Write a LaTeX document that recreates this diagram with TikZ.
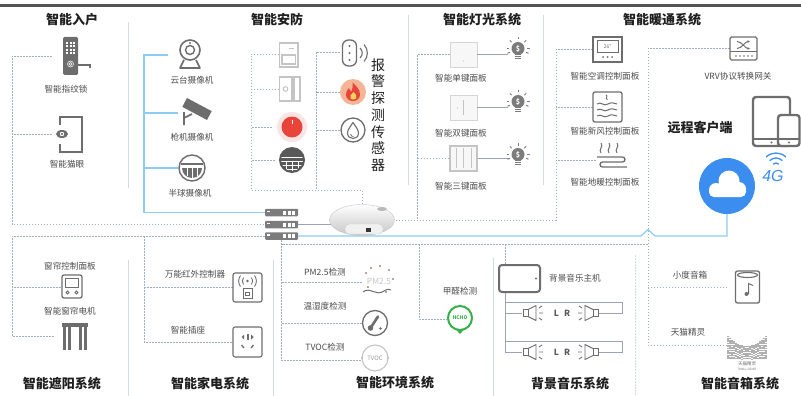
\documentclass[tikz,border=0pt]{standalone}
\usepackage{fontspec}
\setmainfont{Noto Sans CJK SC}
\newfontfamily\hmlatin{Liberation Sans}
\usepackage{tikz}
\usetikzlibrary{arrows.meta,shapes.geometric}
\definecolor{hmink}   {HTML}{1F1F1F}
\definecolor{hmtext}  {HTML}{4A4A4A}
\definecolor{hmdash}  {HTML}{9CAEC6}
\definecolor{hmsky}   {HTML}{8CCBF2}
\definecolor{hmwire}  {HTML}{98A4B5}
\definecolor{hmrule}  {HTML}{D2DAE4}
\definecolor{hmicon}  {HTML}{6D6D6D}
\definecolor{hmdark}  {HTML}{595959}
\definecolor{hmpale}  {HTML}{C4C4C4}
\definecolor{hmcloud} {HTML}{3B8EF0}
\definecolor{hmgreen} {HTML}{35B04A}
\definecolor{hmred}   {HTML}{E8443A}
\definecolor{hmpink}  {HTML}{FBE4E4}
\definecolor{hmfire}  {HTML}{F4B596}
\definecolor{hmbar}   {HTML}{545454}
\tikzset{
  hmtitle/.style={font=\fontsize{13}{15}\selectfont\bfseries, text=hmink, inner sep=0pt},
  hmlabel/.style={font=\fontsize{8.6}{10}\selectfont, text=hmtext, inner sep=0pt},
  hmspot/.style={inner sep=0pt, minimum size=2pt},
  hmdots/.style={draw=hmdash, line width=0.7pt, dash pattern=on 1.6pt off 1.4pt},
  hmbus/.style={draw=hmsky, line width=1.2pt},
  hmcable/.style={draw=hmwire, line width=0.9pt},
  hmdivider/.style={draw=hmrule, line width=0.9pt},
  hmline/.style={draw=hmicon, line width=1.2pt},
  hmpanel/.style={draw=hmpale!70, fill=black!3, line width=0.9pt, minimum width=27pt,
                  minimum height=25pt, inner sep=0pt},
  hmrack/.style={fill=hmicon!90, rounded corners=1pt, minimum width=33pt,
                 minimum height=7.5pt, inner sep=0pt},
  hmhub/.style={ellipse, draw=gray!45, top color=white, bottom color=gray!45,
                minimum width=65pt, minimum height=31pt, inner sep=0pt},
  hmspeaker/.pic={
    \draw[hmicon, line width=0.9pt, fill=white] (-8,-3.5) rectangle (-3,3.5);
    \draw[hmicon, line width=0.9pt, line join=round] (-3,-3.5) -- (5,-7.5) -- (5,7.5) -- (-3,3.5);
    \draw[hmicon, line width=0.9pt] (8,-5) -- (11,-7) (8,0) -- (12,0) (8,5) -- (11,7);
  },
}

\begin{document}
\begin{tikzpicture}[x=1pt,y=-1pt]
  \useasboundingbox (0,0) rectangle (801,396);
  \fill[hmbar] (0,4) rectangle (801,7);

  % section titles
  \node[hmtitle] (tEntry)   at (72,20)   {智能入户};
  \node[hmtitle] (tGuard)   at (277,20)  {智能安防};
  \node[hmtitle] (tLight)   at (482,20)  {智能灯光系统};
  \node[hmtitle] (tHvac)    at (662,20)  {智能暖通系统};
  \node[hmtitle] (tRemote)  at (700,128) {远程客户端};
  \node[hmtitle] (tShade)   at (62,384)  {智能遮阳系统};
  \node[hmtitle] (tAppl)    at (210,384) {智能家电系统};
  \node[hmtitle] (tEnv)     at (395,383) {智能环境系统};
  \node[hmtitle] (tMusic)   at (570,384) {背景音乐系统};
  \node[hmtitle] (tSpeaker) at (740,384) {智能音箱系统};
  \node[hmtitle, align=center, font=\fontsize{14}{16.7}\selectfont] (tAlarm) at (378,115)
    {报\\警\\探\\测\\传\\感\\器};

  % rules between the groups
  \draw[hmdivider] (128,22) -- (128,188);
  \draw[hmdivider] (408,15) -- (408,185);
  \draw[hmdivider] (543,15) -- (543,185);
  \draw[hmdivider] (128,260) -- (128,396);
  \draw[hmdivider] (273,260) -- (273,396);
  \draw[hmdivider] (493,258) -- (493,396);
  \draw[hmdivider, dash pattern=on 1.6pt off 1.4pt] (635,255) -- (635,396);

  % labels
  \node[hmlabel] (lLock)   at (66,89)   {智能指纹锁};
  \node[hmlabel] (lEye)    at (67,164)  {智能猫眼};
  \node[hmlabel] (lCam)    at (192,80)  {云台摄像机};
  \node[hmlabel] (lGun)    at (192,137) {枪机摄像机};
  \node[hmlabel] (lDome)   at (190,193) {半球摄像机};
  \node[hmlabel] (lKey1)   at (461,78)  {智能单键面板};
  \node[hmlabel] (lKey2)   at (461,133) {智能双键面板};
  \node[hmlabel] (lKey3)   at (461,186) {智能三键面板};
  \node[hmlabel] (lAc)     at (605,76)  {智能空调控制面板};
  \node[hmlabel] (lFresh)  at (605,131) {智能新风控制面板};
  \node[hmlabel] (lFloor)  at (605,182) {智能地暖控制面板};
  \node[hmlabel] (lVrv)    at (738,76)  {VRV协议转换网关};
  \node[hmlabel] (lShade)  at (70,266)  {窗帘控制面板};
  \node[hmlabel] (lMotor)  at (70,311)  {智能窗帘电机};
  \node[hmlabel] (lIrc)    at (195,274) {万能红外控制器};
  \node[hmlabel] (lPlug)   at (188,330) {智能插座};
  \node[hmlabel] (lPm)     at (325,272) {PM2.5检测};
  \node[hmlabel] (lThermo) at (325,306) {温湿度检测};
  \node[hmlabel] (lTvoc)   at (325,347) {TVOC检测};
  \node[hmlabel] (lHcho)   at (460,291) {甲醛检测};
  \node[hmlabel] (lHost)   at (575,278) {背景音乐主机};
  \node[hmlabel] (lXiaodu) at (690,275) {小度音箱};
  \node[hmlabel] (lTmall)  at (688,332) {天猫精灵};

  % anchor boxes of the devices
  \node[hmspot, minimum width=36pt, minimum height=40pt] (lock)    at (70,56)    {};
  \node[hmspot, minimum width=38pt, minimum height=36pt] (eye)     at (71,134)   {};
  \node[hmspot, minimum width=44pt, minimum height=32pt] (cam)     at (190,55)   {};
  \node[hmspot, minimum width=36pt, minimum height=28pt] (gun)     at (196,113)  {};
  \node[hmspot, minimum width=28pt, minimum height=28pt] (dome)    at (192,168)  {};
  \node[hmspot, minimum width=20pt, minimum height=25pt] (win)     at (289.5,54) {};
  \node[hmspot, minimum width=20pt, minimum height=25pt] (door)    at (289.5,89) {};
  \node[hmspot, minimum width=40pt, minimum height=30pt] (sos)     at (292,127)  {};
  \node[hmspot, minimum width=34pt, minimum height=26pt] (smoke)   at (292,160)  {};
  \node[hmspot, minimum width=19pt, minimum height=26pt] (curtain) at (349.5,52) {};
  \node[hmspot, minimum width=26pt, minimum height=26pt] (fire)    at (353,92)   {};
  \node[hmspot, minimum width=26pt, minimum height=26pt] (leak)    at (353,130)  {};
  \node[hmpanel] (key1) at (463.5,54.5) {};
  \node[hmpanel] (key2) at (463.5,107.5) {};
  \node[hmpanel, draw=hmpale, line width=1.4pt] (key3) at (463.5,158.5) {};
  \node[hmspot, minimum width=29pt, minimum height=25pt] (ac)      at (607.5,49.5) {};
  \node[hmspot, minimum width=29pt, minimum height=30pt] (fresh)   at (607.5,107)  {};
  \node[hmspot, minimum width=30pt, minimum height=25pt] (floor)   at (611,160)    {};
  \node[hmspot, minimum width=27pt, minimum height=23pt] (vrv)     at (743.5,48.5) {};
  \node[circle, fill=hmcloud, minimum size=56pt, inner sep=0pt] (cloud) at (727,186) {};
  \node[hmspot, minimum width=22pt, minimum height=24pt] (shade)   at (72,287)   {};
  \node[hmspot, minimum width=40pt, minimum height=28pt] (motor)   at (75,336)   {};
  \node[hmspot, minimum width=29pt, minimum height=29pt] (irc)     at (247.5,287.5) {};
  \node[hmspot, minimum width=29pt, minimum height=30pt] (plug)    at (247.5,342)   {};
  \node[hmspot, minimum width=32pt, minimum height=30pt] (pm)      at (378,282)  {};
  \node[hmspot, minimum width=26pt, minimum height=26pt] (thermo)  at (375,323)  {};
  \node[hmspot, minimum width=26pt, minimum height=26pt] (tvoc)    at (375,360)  {};
  \node[hmspot, minimum width=26pt, minimum height=26pt] (hcho)    at (460,319)  {};
  \node[draw=hmicon, line width=2pt, rounded corners=3pt, minimum width=41pt,
        minimum height=27pt, inner sep=0pt] (host) at (519.5,278.5) {};
  \node[hmspot, minimum width=40pt, minimum height=34pt] (xiaodu)  at (747.5,287) {};
  \node[hmspot, minimum width=40pt, minimum height=30pt] (tmall)   at (747,345)  {};

  % bus coordinates
  \coordinate (entryBus) at (12,0);
  \coordinate (camBus)   at (144,0);
  \coordinate (senBus)   at (251,0);
  \coordinate (senBusB)  at (316,0);
  \coordinate (lightBus) at (417,0);
  \coordinate (hvacBus)  at (556,0);
  \coordinate (spkBus)   at (648,0);
  \coordinate (musicBus) at (505,244);
  \coordinate (hchoBus)  at (419,244);
  \coordinate (applBus)  at (144,236);

  % switch and gateway
  \foreach \n/\y in {1/212.5,2/224.5,3/236} {
    \node[hmrack] (sw\n) at (281.5,\y) {};
    \fill[white] (267,\y-2) rectangle (269.5,\y-0.5);
    \foreach \x in {283,287.5,292} \fill[white] (\x,\y-2) rectangle (\x+3,\y+2);
  }

  % connectors, upper half
  \draw[hmdots] (lock.west) -| (sw2.west -| entryBus) -- (sw2.west);
  \draw[hmdots] (eye.west) -- (eye.west -| entryBus);
  \draw[hmbus] (cam.west) -| (sw1.west -| camBus) -- (sw1.west);
  \draw[hmbus] (gun.west) -- (gun.west -| camBus);
  \draw[hmbus] (dome.west) -- (dome.west -| camBus);
  \draw[hmdots] (win.west) -| (251,190) -| (362,205);
  \draw[hmdots] (door.west) -- (door.west -| senBus);
  \draw[hmdots] (sos.west) -- (sos.west -| senBus);
  \draw[hmdots] (smoke.west) -- (smoke.west -| senBus);
  \draw[hmdots] (curtain.west) -| (316,190);
  \draw[hmdots] (fire.west) -- (fire.west -| senBusB);
  \draw[hmdots] (leak.west) -- (leak.west -| senBusB);
  \draw[hmdots] (key1.west) -| (417,220);
  \draw[hmdots] (key3.west) -- (key3.west -| lightBus);
  \draw[hmdots] (ac.west) -| (556,220) -- (395,220);
  \draw[hmdots] (fresh.west) -- (fresh.west -| hvacBus);
  \draw[hmdots] (floor.west) -- (floor.west -| hvacBus);
  \draw[hmcable] (sw2.east) -- ++(34,0);
  \foreach \n in {1,2,3} \draw[hmcable] (key\n.east) -- ++(31,0);

  % connectors, lower half
  \draw[hmdots] (vrv.west) -| (tmall.west -| spkBus) -- (tmall.west);
  \draw[hmdots] (xiaodu.west) -- (xiaodu.west -| spkBus);
  \draw[hmdots] (sw3.south) |- (spkBus |- musicBus);
  \draw[hmdots] (sw3.south) |- (tvoc.west);
  \draw[hmdots] (pm.west) -- (pm.west -| sw3.south);
  \draw[hmdots] (thermo.west) -- (thermo.west -| sw3.south);
  \draw[hmdots] (hchoBus) |- (hcho.west);
  \draw[hmdots] (musicBus) -- (musicBus |- host.north);
  \draw[hmdots] (sw3.west) -| (motor.west -| entryBus) -- (motor.west);
  \draw[hmdots] (shade.west) -- (shade.west -| entryBus);
  \draw[hmdots] (applBus) |- (plug.west);
  \draw[hmdots] (irc.west) -- (irc.west -| applBus);
  \draw[hmbus] (sw3.east) -- (641,236) -- (648,229.5) -- (655,236) -| (cloud.south);

  % hub
  \node[hmhub] (hub) at (362,220) {};
  \filldraw[fill=gray!12, draw=gray!40, rounded corners=4pt] (345,224) rectangle (383,234);
  \fill[black!80] (366,227.5) rectangle (371,232);
  \fill[gray!55] (382,209) ellipse (5 and 2);

  % entry devices
  \fill[hmicon, rounded corners=1.5pt] (63,37) rectangle (78,75);
  \foreach \i in {66,69.5,73} \foreach \j in {42,45.5,49,52.5} \fill[white] (\i,\j) rectangle ++(2,1.8);
  \draw[white, line width=0.5pt] (70.5,64) circle (3) (70.5,64) circle (1.4);
  \draw[hmicon, line width=2.2pt] (78,65) -- (90,65) -- (90,68);
  \draw[hmicon, line width=1.6pt] (60,125) |- (82,117) |- (60,152) -- (60,144);
  \fill[hmicon] (62,134) ellipse (6 and 4);
  \fill[white] (62,134) circle (2.2);
  \fill[hmdark] (62,134) circle (1.1);

  % cameras
  \draw[hmicon, line width=1.6pt] (190,50) circle (10);
  \draw[hmicon, line width=1.4pt] (190,50) circle (4.5);
  \fill[hmicon] (190,43) circle (1.1);
  \draw[hmicon, line width=1.6pt, line join=round] (184,60) -- (180,68) -- (200,68) -- (196,60);
  \fill[hmicon, rotate around={-28:(197,109)}] (183,104) rectangle (211,114);
  \draw[hmicon, line width=1.6pt] (184,112) -- (184,125) (184,118) -- (192,114);
  \draw[hmicon, line width=1.4pt] (192,168) circle (13);
  \fill[hmicon] (181,162.5) rectangle (203,165);
  \fill[hmicon] (182,168) -- (202,168) arc[start angle=0, end angle=180, radius=10];
  \draw[white, line width=0.6pt] (187,168) -- (187,176) (192,168) -- (192,178) (197,168) -- (197,176);

  % alarm sensors
  \draw[hmpale, line width=1.2pt] (279.5,43) rectangle (298,67);
  \draw[hmpale, line width=1.1pt] (282,55) rectangle (295.5,64);
  \draw[hmpale, line width=1pt] (289,49) -- (294,49);
  \draw[hmpale, line width=1.2pt] (279.5,77) rectangle (292,101) (294,77) rectangle (300,101);
  \draw[hmpale, line width=1pt] (285.5,89) circle (2.3);
  \fill[hmpink] (292,127) circle (15);
  \fill[hmred] (292,127) circle (10.5);
  \draw[white, line width=1pt] (292,119.5) -- (292,123.5);
  \fill[hmdark] (292,160) circle (13);
  \begin{scope}
    \clip (292,160) circle (11);
    \draw[white, line width=0.8pt] (279,157) -- (305,157) (279,161) -- (305,161) (279,165) -- (305,165)
      (279,169) -- (305,169) (286,161) -- (286,175) (292,161) -- (292,175) (298,161) -- (298,175);
  \end{scope}
  \draw[hmicon, line width=1.3pt, rounded corners=6pt] (342.5,40) rectangle (356.5,66);
  \foreach \y in {46,53,60} \fill[hmicon] (349.5,\y) circle (1.2);
  \draw[hmicon, line width=1.1pt] (360,48) .. controls (363,51) and (363,55) .. (360,58);
  \draw[hmicon, line width=1.1pt] (364,44.5) .. controls (368.5,49.5) and (368.5,56.5) .. (364,61.5);
  \fill[hmfire] (353,92) circle (13);
  \fill[hmred] (352.5,82.5) .. controls (356,86) and (360,89) .. (360,94.5)
    .. controls (360,98.5) and (357,101) .. (353,101) .. controls (349,101) and (346,98.5) .. (346,94.5)
    .. controls (346,91.5) and (347.5,89.5) .. (349,88) .. controls (349.5,90) and (350.5,91) .. (351.5,91.5)
    .. controls (352.5,89) and (353,86) .. (352.5,82.5) -- cycle;
  \fill[hmfire!60!yellow] (353.5,92) .. controls (356,94.5) and (357,96.5) .. (356,98.5)
    .. controls (355,100) and (351.5,100) .. (350.5,98.5) .. controls (349.5,96.5) and (351,94) .. (353.5,92) -- cycle;
  \draw[hmicon, line width=1.3pt] (353,130) circle (12);
  \draw[hmicon, line width=1.1pt] (353,122.5) .. controls (350,127) and (347.5,130) .. (347.5,133)
    .. controls (347.5,136.5) and (350,138.5) .. (353,138.5) .. controls (356,138.5) and (358.5,136.5) .. (358.5,133)
    .. controls (358.5,130) and (356,127) .. (353,122.5) -- cycle;
  \draw[hmicon, line width=0.8pt] (350.5,134) .. controls (351,136) and (352,136.5) .. (353.5,136.5);

  % light panels and lamps
  \fill[hmpale] (463.5,61) circle (0.7);
  \draw[hmpale, line width=0.8pt] (463.5,100) -- (463.5,115);
  \fill[hmpale] (457.5,108) circle (0.7);
  \draw[hmpale, line width=0.9pt] (456,148) -- (456,168) (463.5,148) -- (463.5,168) (471,148) -- (471,168);
  \foreach \n/\y in {1/50,2/103,3/156} {
    \fill[hmicon!90] (518,\y-1.5) circle (6.5);
    \fill[hmicon!90] (515,\y+3) rectangle (521,\y+9);
    \draw[white, line width=0.5pt] (515,\y+5.5) -- (521,\y+5.5) (515,\y+7.5) -- (521,\y+7.5);
    \node[font=\fontsize{7}{7}\selectfont\bfseries, text=white, inner sep=0pt] (bulbmark\n) at (518,\y-1.5) {\$};
    \foreach \a in {-180,-135,-90,-45,0,25,155}
      \draw[hmicon!90, line width=1pt] (518,\y-1.5) ++(\a:9) -- ++(\a:2.5);
  }

  % hvac devices
  \draw[hmicon, line width=1.1pt] (593,37) rectangle (622,62);
  \draw[hmicon, line width=0.8pt] (597,40.5) rectangle (618,52);
  \node[font=\fontsize{5}{5}\selectfont, text=hmicon, inner sep=0pt] (acTemp) at (607.5,46.3) {26°};
  \foreach \x in {603,607.5,612} \fill[hmicon] (\x,57) circle (1);
  \draw[hmicon, line width=1.3pt, rounded corners=2pt] (593,92) rectangle (622,122);
  \draw[hmicon, line width=0.9pt] (606,95) .. controls (609,96) and (604,98.5) .. (607.5,99.5);
  \foreach \y in {104,110,116}
    \draw[hmicon, line width=1pt] (597,\y) .. controls (601,\y-3) and (604,\y+3) .. (608,\y)
      .. controls (611,\y-2) and (614,\y-1) .. (617,\y);
  \foreach \x in {601,609,617}
    \draw[hmicon, line width=1pt] (\x,143) .. controls (\x+3,146) and (\x-3,150) .. (\x,153);
  \draw[hmicon, line width=1.3pt, rounded corners=2.5pt] (597,157) -- (625,157) -- (625,162) -- (600,162)
    -- (600,167) -- (627,167);
  \draw[hmicon, line width=1.1pt, rounded corners=1.5pt] (730,37) rectangle (757,60);
  \draw[hmicon, line width=1pt] (730,52) -- (757,52);
  \foreach \x in {736,740,744,748,752} \fill[hmicon] (\x,56) circle (0.8);
  \draw[hmicon, line width=1pt, -{Latex[length=2.5pt,width=3pt]}] (737,41.5) .. controls (742,41.5) and (745,48.5) .. (750,48.5);
  \draw[hmicon, line width=1pt, -{Latex[length=2.5pt,width=3pt]}] (737,48.5) .. controls (742,48.5) and (745,41.5) .. (750,41.5);

  % remote clients and cloud
  \draw[hmicon, line width=2.4pt, rounded corners=3pt] (753,97) rectangle (790,146);
  \draw[hmicon, line width=1.2pt] (753,139) -- (790,139);
  \fill[hmicon] (771.5,142.5) circle (1.1);
  \filldraw[fill=white, draw=hmicon, line width=2.4pt, rounded corners=3pt] (778,115) rectangle (799.5,146);
  \draw[hmicon, line width=1.2pt] (778,139) -- (799.5,139);
  \fill[hmicon] (789,142.5) circle (1.1);
  \fill[white] (716,190) circle (7) (729,181) circle (10.5) (739,189) circle (7);
  \fill[white, rounded corners=5pt] (709,186) rectangle (746,197);
  \foreach \r in {4,9,14}
    \draw[hmcloud, line width=1.3pt] (776,167) ++(-135:\r) arc[start angle=-135, end angle=-45, radius=\r];
  \node[font=\hmlatin\itshape\fontsize{16}{16}\selectfont, text=hmcloud, inner sep=0pt] (g4) at (773,176) {4G};

  % shading devices
  \draw[hmicon, line width=1.3pt, rounded corners=2pt] (62,275) rectangle (82,298);
  \draw[hmicon, line width=1pt] (65.5,278.5) rectangle (78.5,287);
  \draw[hmicon, line width=0.9pt] (67.5,292.5) circle (1.6) (76.5,292.5) circle (1.6);
  \fill[hmicon] (62,323) rectangle (88,327);
  \foreach \x in {64.5,69.5,80.5,85.5} \fill[hmicon] (\x-1.2,327) rectangle (\x+1.2,350);

  % appliances
  \draw[hmicon, line width=1.1pt, rounded corners=2pt] (233,273) rectangle (262,302);
  \fill[hmicon] (247.5,281) circle (1.3);
  \draw[hmicon, line width=0.9pt] (243.5,277.5) .. controls (242,279.5) and (242,282.5) .. (243.5,284.5)
    (240.5,275.5) .. controls (238,279) and (238,283) .. (240.5,286.5)
    (251.5,277.5) .. controls (253,279.5) and (253,282.5) .. (251.5,284.5)
    (254.5,275.5) .. controls (257,279) and (257,283) .. (254.5,286.5);
  \draw[hmicon, line width=0.9pt] (243,288.5) rectangle (252,298);
  \draw[hmicon, line width=0.7pt] (245.5,292) rectangle (249.5,295.5);
  \draw[hmicon, line width=1.1pt, rounded corners=2pt] (233,327) rectangle (262,357);
  \fill[hmicon] (246.5,334) rectangle (248.5,340);
  \fill[hmicon] (241.5,337) -- (244,334.5) -- (244,339.5) -- cycle;
  \fill[hmicon] (253.5,337) -- (251,334.5) -- (251,339.5) -- cycle;
  \draw[hmicon, line width=1.3pt] (241.5,345) -- (244,348) (253.5,345) -- (251,348);

  % environment sensors
  \node[font=\fontsize{8.5}{9}\selectfont, text=hmpale, inner sep=0pt] (pmTag) at (379,281) {PM2.5};
  \foreach \px/\py in {371/268,380/266,389/270,366/273,393/279,386/292,368/287}
    \fill[brown!60!black] (\px,\py) circle (0.9);
  \draw[hmicon, line width=1pt] (363,292) .. controls (370,286) and (376,297) .. (384,291)
    .. controls (387,289) .. (391,290);
  \draw[hmicon, line width=1.3pt] (375,323) circle (12.5);
  \draw[hmicon, line width=2.6pt, line cap=round] (371.5,326.5) -- (378,316.5);
  \fill[hmicon] (370.5,328) circle (2.8);
  \fill[hmicon] (380.5,328.5) circle (1.3);
  \draw[hmpale, line width=1.1pt] (375,358) circle (13);
  \fill[hmpale] (362,358) circle (1.3) (388,358) circle (1.3);
  \node[font=\fontsize{6}{6}\selectfont, text=hmpale!80!black, inner sep=0pt] (tvocTag) at (375,358) {TVOC};
  \draw[hmgreen, line width=2pt] (460,318) circle (12);
  \fill[hmgreen] (456,329.5) -- (464,329.5) -- (460,334) -- cycle;
  \node[font=\fontsize{5}{5}\selectfont\bfseries, text=hmgreen, inner sep=0pt] (hchoTag) at (460,318) {HCHO};

  % background music
  \fill[hmicon] (536,278.5) circle (1.1);
  \draw[hmcable] (musicBus |- host.south) -- (505,352);
  \foreach \n/\y in {1/313,2/352} {
    \draw[hmcable] (505,\y-11) -| (622,\y) -- (599,\y);
    \draw[hmcable] (505,\y) -- (522,\y);
    \pic at (531,\y) {hmspeaker};
    \pic[xscale=-1] at (590,\y) {hmspeaker};
    \node[font=\fontsize{8.5}{9}\selectfont\bfseries, text=hmdark, inner sep=0pt] (lr\n) at (562,\y) {L\hspace{5pt}R};
  }

  % smart speakers
  \draw[hmicon, line width=1.3pt, rounded corners=2pt] (735.5,271) rectangle (759.5,303);
  \draw[hmicon, line width=1.1pt] (747.5,275) ellipse (10 and 2.5);
  \draw[hmicon, line width=1pt] (748.5,294) -- (748.5,283.5) -- (753,285.5);
  \fill[hmicon] (746.5,294) circle (2);
  \foreach \i in {0,...,19} {
    \pgfmathsetmacro{\hmtop}{346-10*(abs(\i-9.5)/9.5)^2}
    \draw[hmpale!90!black, line width=1.1pt, dash pattern=on 1.2pt off 0.5pt] (728+2*\i,\hmtop) -- (728+2*\i,359);
  }
  \node[font=\fontsize{4.5}{5}\selectfont, text=hmicon, inner sep=0pt] (tmallTag) at (747,364) {天猫精灵};
  \node[font=\fontsize{3}{3}\selectfont, text=hmicon, inner sep=0pt] (tmallEn) at (747,369.5) {TMALL GENIE};
\end{tikzpicture}
\end{document}
